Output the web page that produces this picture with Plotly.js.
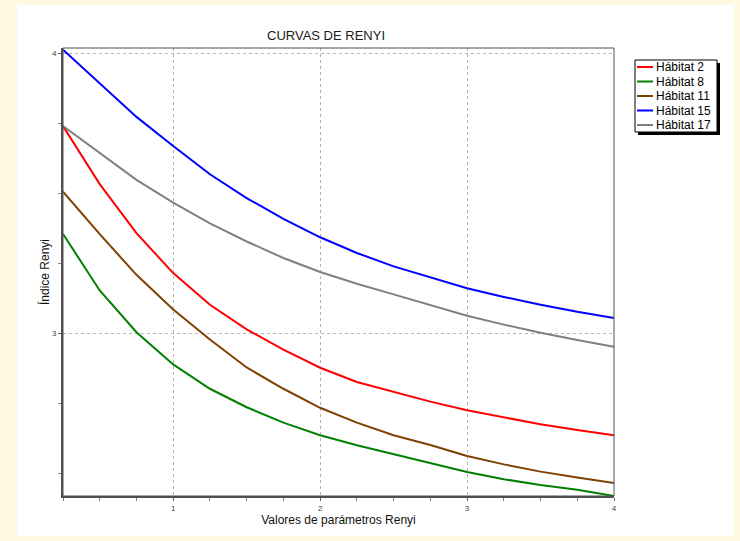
<!DOCTYPE html>
<html>
<head>
<meta charset="utf-8">
<script src="https://cdn.plot.ly/plotly-3.0.1.min.js"></script>
<style>html,body{margin:0;padding:0;background:#FFF8E2;}#chart{width:740px;height:541px;}</style>
</head>
<body>
<div id="chart"></div>
<script>
// ---- data ----
const renyiParams = [0.25, 0.5, 0.75, 1, 1.25, 1.5, 1.75, 2, 2.25, 2.5, 2.75, 3, 3.25, 3.5, 3.75, 4];
const seriesNames = ["Hábitat 2", "Hábitat 8", "Hábitat 11", "Hábitat 15", "Hábitat 17"];
const habitat2  = [3.741, 3.534, 3.359, 3.216, 3.103, 3.015, 2.943, 2.878, 2.827, 2.791, 2.757, 2.726, 2.700, 2.676, 2.656, 2.637];
const habitat8  = [3.356, 3.154, 3.005, 2.890, 2.803, 2.737, 2.682, 2.637, 2.601, 2.569, 2.539, 2.506, 2.480, 2.459, 2.442, 2.420];
const habitat11 = [3.507, 3.355, 3.210, 3.086, 2.979, 2.879, 2.803, 2.735, 2.682, 2.637, 2.602, 2.563, 2.533, 2.507, 2.486, 2.466];
const habitat15 = [4.014, 3.893, 3.774, 3.670, 3.569, 3.484, 3.410, 3.344, 3.288, 3.240, 3.200, 3.162, 3.131, 3.103, 3.078, 3.056];
const habitat17 = [3.741, 3.646, 3.549, 3.468, 3.394, 3.329, 3.270, 3.220, 3.178, 3.140, 3.101, 3.064, 3.032, 3.003, 2.977, 2.953];
const xTickVals = [1, 2, 3, 4];
const yTickVals = [3, 4];

// ---- styling ----
const seriesValues = [habitat2, habitat8, habitat11, habitat15, habitat17];
const colors = ["#FF0000", "#008000", "#804000", "#0000FF", "#808080"];
const FONT = "Liberation Sans, Arial, sans-serif";
const W = 740, H = 541, L = 63, R = 126, T = 48, B = 45;
const pw = W - L - R, ph = H - T - B;
const px = v => (v - L) / pw;
const py = v => (H - B - v) / ph;

const traces = seriesValues.map((vals, i) => ({
  type: "scatter", mode: "lines", x: renyiParams, y: vals, name: seriesNames[i],
  line: {color: colors[i], width: 2}, showlegend: false, hoverinfo: "x+y+name"
}));

const shapes = [
  // white panel
  {type: "rect", xref: "paper", yref: "paper", x0: px(17), x1: px(734), y0: py(5), y1: py(536),
   fillcolor: "#FFFFFF", line: {width: 0}, layer: "below"},
  // plot frame
  {type: "rect", xref: "paper", yref: "paper", x0: 0, x1: 1, y0: 0, y1: 1,
   line: {color: "#505050", width: 1}, layer: "above"},
  // legend shadow + box
  {type: "rect", xref: "paper", yref: "paper", x0: px(638), x1: px(720), y0: py(63), y1: py(135),
   fillcolor: "#000000", line: {width: 0}},
  {type: "rect", xref: "paper", yref: "paper", x0: px(635), x1: px(717), y0: py(60), y1: py(132),
   fillcolor: "#FFFFFF", line: {color: "#000000", width: 1}}
];
const annotations = [];
seriesNames.forEach((n, i) => {
  const yc = 67 + i * 14.5;
  shapes.push({type: "line", xref: "paper", yref: "paper", x0: px(637), x1: px(653), y0: py(yc), y1: py(yc),
    line: {color: colors[i], width: 2}});
  annotations.push({xref: "paper", yref: "paper", x: px(654), y: py(yc), xanchor: "left", yanchor: "middle",
    text: n, showarrow: false, font: {family: FONT, size: 12, color: "#000"}});
});

const layout = {
  width: W, height: H,
  margin: {l: L, r: R, t: T, b: B},
  paper_bgcolor: "#FFF8E2", plot_bgcolor: "#FFFFFF",
  font: {family: FONT},
  showlegend: false,
  title: {text: "CURVAS DE RENYI", xref: "container", yref: "container", x: 326 / W, xanchor: "center",
    y: 1 - 35 / H, yanchor: "middle", font: {family: FONT, size: 13, color: "#1a1a1a"}},
  xaxis: {range: [0.25, 4], tickvals: xTickVals, ticks: "outside", ticklen: 3, tickcolor: "#606060",
    showgrid: true, gridcolor: "#B4B4B4", griddash: "dot", gridwidth: 1, zeroline: false,
    showline: true, linecolor: "#505050", linewidth: 2,
    minor: {dtick: 0.25, ticks: "outside", ticklen: 3, tickcolor: "#808080", showgrid: false},
    tickfont: {family: FONT, size: 8, color: "#444"},
    title: {text: "Valores de parámetros Renyi", standoff: 2, font: {family: FONT, size: 12, color: "#111"}}},
  yaxis: {range: [2.42, 4.02], tickvals: yTickVals, ticks: "outside", ticklen: 3, tickcolor: "#606060",
    showgrid: true, gridcolor: "#B4B4B4", griddash: "dot", gridwidth: 1, zeroline: false,
    showline: true, linecolor: "#505050", linewidth: 2,
    minor: {dtick: 0.25, ticks: "outside", ticklen: 3, tickcolor: "#808080", showgrid: false},
    tickfont: {family: FONT, size: 8, color: "#444"},
    title: {text: "Índice Renyi", standoff: 0, font: {family: FONT, size: 12, color: "#111"}}},
  shapes: shapes, annotations: annotations
};
Plotly.newPlot("chart", traces, layout, {displayModeBar: false, staticPlot: true});
</script>
</body>
</html>
